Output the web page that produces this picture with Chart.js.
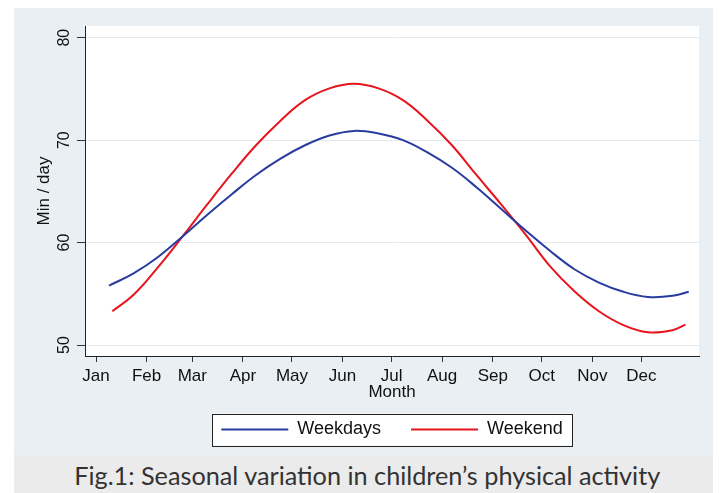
<!DOCTYPE html>
<html>
<head>
<meta charset="utf-8">
<script src="https://cdn.jsdelivr.net/npm/chart.js@4.4.1/dist/chart.umd.min.js"></script>
<style>
  html, body { margin: 0; padding: 0; background: #fff; }
  #wrap { position: relative; width: 722px; height: 493px; overflow: hidden; }
  #panel { position: absolute; left: 14px; top: 8px; width: 699px; height: 447px; background: #e9eff2; }
  #band { position: absolute; left: 14px; top: 455px; width: 699px; height: 38px; background: #ebebeb; }
  #capline { position: absolute; left: 18px; top: 460px; width: 699px; text-align: center; line-height: 38px; }
  #caption { display: inline-block; font: 25px Lato, "Open Sans", sans-serif; color: #333; transform-origin: center; white-space: nowrap; }
  canvas { position: absolute; left: 0; top: 0; }
</style>
</head>
<body>
<div id="wrap">
  <div id="panel"></div>
  <div id="band"></div>
  <div id="capline"><span id="caption">Fig.1: Seasonal variation in children’s physical activity</span></div>
  <canvas id="seasonChart" width="722" height="493"></canvas>
</div>
<script>
// month ticks (day of year of the 1st of each month)
const monthStarts = [1, 32, 60, 91, 121, 152, 182, 213, 244, 274, 305, 335];
const monthNames = ["Jan", "Feb", "Mar", "Apr", "May", "Jun", "Jul", "Aug", "Sep", "Oct", "Nov", "Dec"];
const yTicks = [50, 60, 70, 80];

// fitted curves (day of year -> min/day)
const weekdayDays = [9, 24, 39, 54, 69, 84, 99, 114, 129, 144, 159, 174, 189, 204, 219, 234, 249, 264, 279, 294, 309, 324, 339, 354, 364];
const weekdayMin = [55.8, 57.0, 58.6, 60.6, 62.7, 64.7, 66.6, 68.2, 69.5, 70.45, 70.9, 70.65, 70.0, 68.8, 67.3, 65.4, 63.3, 61.2, 59.2, 57.4, 56.1, 55.2, 54.7, 54.8, 55.2];

const weekendDays = [11, 24, 39, 54, 69, 84, 99, 114, 129, 144, 159, 174, 189, 204, 219, 234, 249, 264, 279, 294, 309, 324, 339, 354, 362];
const weekendMin = [53.3, 54.9, 57.6, 60.6, 63.7, 66.7, 69.5, 71.9, 73.9, 75.05, 75.5, 75.05, 73.9, 71.9, 69.5, 66.6, 63.75, 60.8, 57.7, 55.25, 53.3, 51.95, 51.25, 51.45, 52.0];

const font = { family: "'Liberation Sans', Arial, sans-serif", size: 17 };

const toPoints = (days, vals) => days.map((d, i) => ({ x: d, y: vals[i] }));

// white plot region + framed legend, Stata style
const backdrop = {
  id: "backdrop",
  beforeDraw(chart) {
    const { ctx, chartArea, legend } = chart;
    ctx.save();
    ctx.fillStyle = "#fff";
    ctx.fillRect(chartArea.left, chartArea.top, chartArea.right - chartArea.left, chartArea.bottom - chartArea.top);
    const cx = (legend.left + legend.right) / 2;
    const cy = legend.top + 30 + 9;
    ctx.fillRect(cx - 180, cy - 16, 360, 32);
    ctx.strokeStyle = "#222";
    ctx.lineWidth = 1;
    ctx.strokeRect(Math.round(cx - 180) + 0.5, Math.round(cy - 16) + 0.5, 360, 32);
    ctx.restore();
  }
};

const data = {
  datasets: [
    {
      label: "Weekdays",
      data: toPoints(weekdayDays, weekdayMin),
      borderColor: "rgb(40, 60, 160)",
      backgroundColor: "rgb(40, 60, 160)",
      borderWidth: 2,
      pointRadius: 0,
      tension: 0.4,
    },
    {
      label: "Weekend",
      data: toPoints(weekendDays, weekendMin),
      borderColor: "rgb(232, 20, 30)",
      backgroundColor: "rgb(232, 20, 30)",
      borderWidth: 2,
      pointRadius: 0,
      tension: 0.4,
    },
  ],
};

const config = {
  type: "line",
  data: data,
  plugins: [backdrop],
  options: {
    responsive: false,
    animation: false,
    devicePixelRatio: 1,
    layout: { padding: { left: 20, top: 26, right: 23, bottom: 44.5 } },
    plugins: {
      tooltip: { enabled: false },
      legend: {
        position: "bottom",
        fullSize: false,
        labels: {
          usePointStyle: true,
          pointStyle: "line",
          pointStyleWidth: 67,
          padding: 30,
          font: { family: font.family, size: 18 },
          color: "#111",
        },
      },
    },
    scales: {
      x: {
        type: "linear",
        min: -5.74,
        max: 370.3,
        afterBuildTicks: (s) => { s.ticks = monthStarts.map((v) => ({ value: v })); },
        afterFit: (s) => { s.height = 34.5; },
        ticks: {
          autoSkip: false,
          maxRotation: 0,
          padding: 4,
          font: font,
          color: "#111",
          callback: (v, i) => monthNames[i],
        },
        grid: { drawOnChartArea: false, tickLength: 6, tickColor: "#333" },
        border: { color: "#222", width: 1 },
        title: { display: true, text: "Month", font: font, color: "#111", padding: { top: 0, bottom: -12.5 } },
      },
      y: {
        min: 48.93,
        max: 81.14,
        afterBuildTicks: (s) => { s.ticks = yTicks.map((v) => ({ value: v })); },
        afterFit: (s) => { s.width = 65; },
        ticks: {
          minRotation: 90,
          maxRotation: 90,
          crossAlign: "center",
          padding: 4,
          font: { family: font.family, size: 16 },
          color: "#111",
        },
        grid: { color: "#e3eaee", tickLength: 8, tickColor: "#333" },
        border: { color: "#222", width: 1 },
        title: { display: true, text: "Min / day", font: font, color: "#111", padding: { top: 14 } },
      },
    },
  },
};

const ctx = document.getElementById("seasonChart");
const seasonChart = new Chart(ctx.getContext("2d"), config);

// squeeze caption to the width it has in the figure
const cap = document.getElementById("caption");
const capWidth = cap.getBoundingClientRect().width;
cap.style.transform = "scaleX(" + (586 / capWidth) + ")";
</script>
</body>
</html>
